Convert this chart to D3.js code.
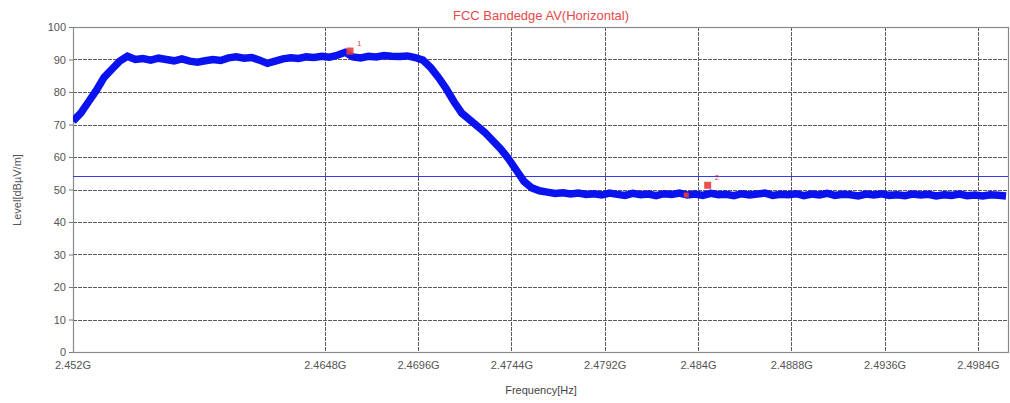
<!DOCTYPE html>
<html><head><meta charset="utf-8">
<script src="https://cdn.jsdelivr.net/npm/d3@7"></script>
<style>body{margin:0;background:#fff;}svg{display:block;font-family:"Liberation Sans",Arial,sans-serif;}</style>
</head><body>
<svg id="c" width="1010" height="403"></svg>
<script>
const chartTitle = "FCC Bandedge AV(Horizontal)";
const xLabel = "Frequency[Hz]";
const yLabel = "Level[dBµV/m]";
const xDomain = [2.45185, 2.49995];
const yDomain = [0, 100];
const xTickValues = [2.452, 2.4648, 2.4696, 2.4744, 2.4792, 2.484, 2.4888, 2.4936, 2.4984];
const xTickLabels = ["2.452G", "2.4648G", "2.4696G", "2.4744G", "2.4792G", "2.484G", "2.4888G", "2.4936G", "2.4984G"];
const yTickValues = [0, 10, 20, 30, 40, 50, 60, 70, 80, 90, 100];
const limitLevel = 54;
const sweepStart = 2.45185;
const sweepStep = 0.0004;
const traceLevels = [
  71, 73.5, 77, 80.5, 84.5, 87, 89.5, 91, 90, 90.3,
  89.8, 90.4, 90, 89.6, 90.2, 89.5, 89.2, 89.6, 90, 89.7,
  90.5, 90.8, 90.4, 90.6, 89.8, 88.8, 89.5, 90.2, 90.5, 90.3,
  90.8, 90.6, 91, 90.7, 91.3, 92.2, 90.8, 90.5, 91, 90.8,
  91.2, 91, 90.9, 91.1, 90.6, 89.8, 87.5, 84.5, 81, 77,
  73.5, 71.5, 69.5, 67.5, 65, 62.5, 59.5, 56, 52.5, 50.5,
  49.6, 49.2, 48.8, 49, 48.6, 48.9, 48.5,
  48.7, 48.3, 48.9, 48.5, 48.2, 48.8, 48.4, 48.6, 48.1, 48.7,
  48.5, 48.9, 48.3, 48.6, 48.2, 48.8, 48.4, 48.5, 48.1, 48.7,
  48.3, 48.6, 48.9, 48.2, 48.5, 48.4, 48.7, 48.1, 48.6, 48.3,
  48.8, 48.2, 48.5, 48.4, 48.0, 48.6, 48.3, 48.7, 48.2, 48.4,
  48.1, 48.6, 48.3, 48.5, 48.0, 48.4, 48.2, 48.6, 48.1, 48.3,
  48.0, 48.4, 48.2, 48.0
];
const markerFreqs = [2.4661, 2.4845, 2.4834];
const markerLevels = [92.6, 51.3, 48.3];
const markerLabels = ["1", "2", ""];

const svg = d3.select("#c");
const m = {l: 73, r: 1008, t: 27, b: 352};
const x = d3.scaleLinear().domain(xDomain).range([m.l, m.r]);
const y = d3.scaleLinear().domain(yDomain).range([m.b, m.t]);

// grid
const grid = svg.append("g");
grid.selectAll("line.h").data(yTickValues.filter(v => v > 0 && v < 100)).join("line")
  .attr("x1", m.l).attr("x2", m.r).attr("y1", d => Math.round(y(d)) + 0.5).attr("y2", d => Math.round(y(d)) + 0.5)
  .attr("stroke", "#5a5a5a").attr("stroke-width", 1).attr("stroke-dasharray", "4,1");
grid.selectAll("line.v").data(xTickValues.slice(1)).join("line")
  .attr("x1", d => Math.round(x(d)) + 0.5).attr("x2", d => Math.round(x(d)) + 0.5)
  .attr("y1", m.t).attr("y2", m.b)
  .attr("stroke", "#5a5a5a").attr("stroke-width", 1).attr("stroke-dasharray", "4,1");

// frame
svg.append("rect").attr("x", m.l + 0.5).attr("y", m.t + 0.5)
  .attr("width", m.r - m.l).attr("height", m.b - m.t)
  .attr("fill", "none").attr("stroke", "#8a8a8a").attr("stroke-width", 1.2);

// axes
const yAxis = d3.axisLeft(y).tickValues(yTickValues).tickSize(4).tickFormat(d3.format("d"));
const gy = svg.append("g").attr("transform", `translate(${m.l},0)`).call(yAxis);
gy.select(".domain").remove();
gy.selectAll(".tick line").attr("stroke", "#777");
gy.selectAll(".tick text").attr("font-size", 11).attr("fill", "#555").attr("x", -7)
  .attr("font-family", '"Liberation Sans",Arial,sans-serif');

const xAxis = d3.axisBottom(x).tickValues(xTickValues).tickSize(0)
  .tickFormat((d, i) => xTickLabels[i]);
const gx = svg.append("g").attr("transform", `translate(0,${m.b})`).call(xAxis);
gx.select(".domain").remove();
gx.selectAll(".tick text").attr("font-size", 11).attr("fill", "#555").attr("dy", "1.3em")
  .attr("font-family", '"Liberation Sans",Arial,sans-serif');
gx.selectAll(".tick").filter((d, i) => i === 0).attr("transform", `translate(${m.l},0)`);

// limit line
svg.append("line").attr("x1", m.l).attr("x2", m.r).attr("y1", y(limitLevel)).attr("y2", y(limitLevel))
  .attr("stroke", "#3a3ae6").attr("stroke-width", 1.2);

// trace
svg.append("defs").append("clipPath").attr("id", "pc").append("rect")
  .attr("x", m.l).attr("y", m.t).attr("width", m.r - m.l).attr("height", m.b - m.t);
const traceData = traceLevels.map((v, i) => [sweepStart + i * sweepStep, v]);
const line = d3.line().x(d => x(d[0])).y(d => y(d[1]));
svg.append("path").datum(traceData).attr("clip-path", "url(#pc)")
  .attr("d", line).attr("fill", "none").attr("stroke", "#0a12f0")
  .attr("stroke-width", 7.5).attr("stroke-linejoin", "miter").attr("stroke-linecap", "butt");

// markers
markerFreqs.forEach((f, i) => {
  const s = markerLabels[i] ? 7 : 5;
  svg.append("rect").attr("x", x(f) - s / 2).attr("y", y(markerLevels[i]) - s / 2)
    .attr("width", s).attr("height", s).attr("fill", "#e8403a").attr("opacity", 0.9);
  if (markerLabels[i]) {
    svg.append("text").attr("x", x(f) + 7).attr("y", y(markerLevels[i]) - 5)
      .attr("font-size", 8).attr("fill", "#e8403a").text(markerLabels[i]);
  }
});

// titles
svg.append("text").attr("x", 541).attr("y", 20).attr("text-anchor", "middle")
  .attr("font-size", 13).attr("fill", "#e84848").text(chartTitle);
svg.append("text").attr("x", 541).attr("y", 394).attr("text-anchor", "middle")
  .attr("font-size", 11).attr("fill", "#444").text(xLabel);
svg.append("text").attr("transform", "translate(21,190) rotate(-90)").attr("text-anchor", "middle")
  .attr("font-size", 11).attr("fill", "#555").text(yLabel);
</script>
</body></html>
